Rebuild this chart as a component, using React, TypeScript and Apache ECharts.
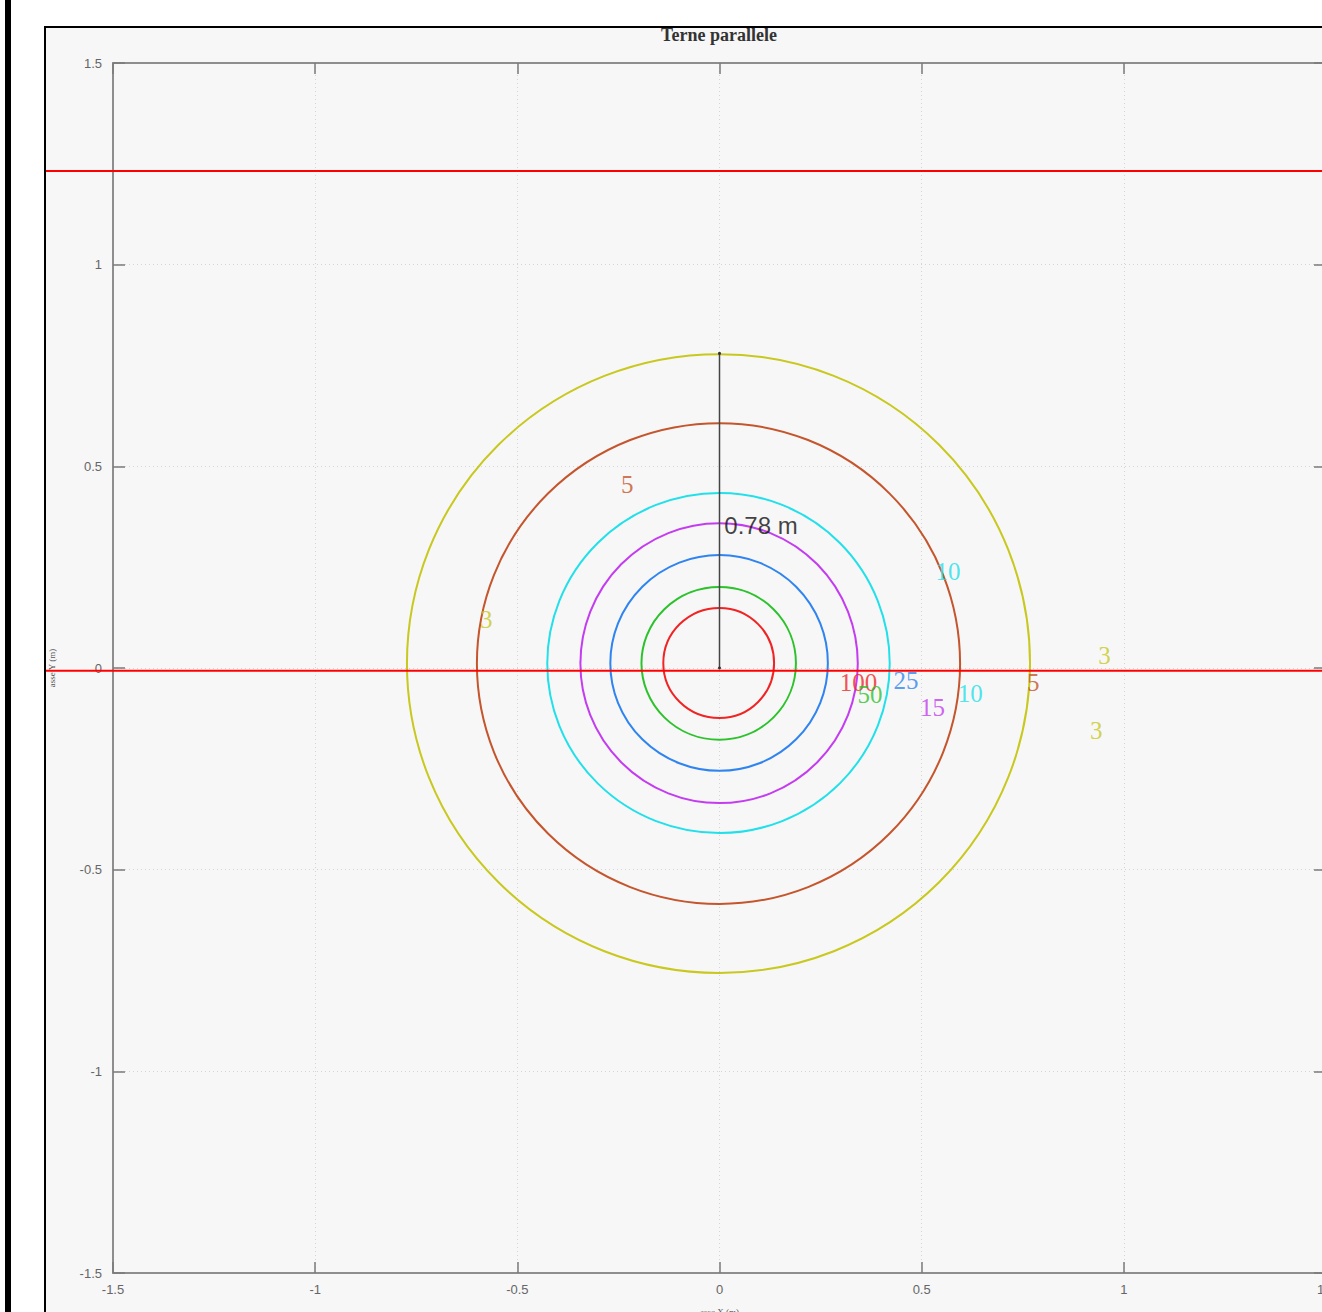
import React, { useEffect, useRef } from "react";
import * as echarts from "echarts";

// Axis ticks
const axisMin = -1.5;
const axisMax = 1.5;
const axisStep = 0.5;

// Contour levels (field values) and their extents
const contourLevels = [3, 5, 10, 15, 25, 50, 100];
const contourColors = ["#c8c81e", "#c4552c", "#22e0ea", "#c43cf0", "#2f84f0", "#2cc22c", "#f02424"];
const contourTop = [0.778, 0.607, 0.434, 0.359, 0.28, 0.201, 0.149];
const contourBottom = [-0.756, -0.585, -0.409, -0.335, -0.255, -0.178, -0.124];
const contourLeft = [-0.773, -0.6, -0.426, -0.344, -0.27, -0.193, -0.139];
const contourRight = [0.768, 0.595, 0.421, 0.342, 0.268, 0.189, 0.135];
const contourMid = [0.011, 0.011, 0.011, 0.011, 0.012, 0.012, 0.012];

// Contour labels
const labelLevel = [5, 3, 10, 3, 5, 100, 50, 25, 15, 10, 3];
const labelX = [-0.228, -0.577, 0.565, 0.952, 0.776, 0.344, 0.372, 0.461, 0.527, 0.62, 0.932];
const labelY = [0.456, 0.121, 0.24, 0.03, -0.035, -0.035, -0.066, -0.032, -0.097, -0.064, -0.156];

// Red horizontal lines (conductor planes)
const redLineY = [1.232, -0.007];

// Distance marker
const distanceValue = 0.78;
const distanceLabel = "0.78 m";
const distanceLabelPos = [0.012, 0.354];

const CHART_W = 1420;
const CHART_H = 1312;

export default function App() {
  const ref = useRef<HTMLDivElement>(null);

  useEffect(() => {
    document.body.style.margin = "0";
    document.body.style.overflow = "hidden";
    if (!ref.current) return;
    const chart = echarts.init(ref.current, undefined, { renderer: "svg" });

    const axisLineStyle = { color: "#8e8e8e", width: 2 };
    const tickStyle = { color: "#7a7a7a", width: 1.5 };
    const splitStyle = { color: "#d4d4d4", width: 1, type: [1, 3] as any };

    const contourData = contourLevels.map((lv, i) => ({
      name: String(lv),
      value: [contourTop[i], contourBottom[i], contourLeft[i], contourRight[i], contourMid[i]],
    }));

    const labelData = labelLevel.map((lv, i) => {
      const ci = contourLevels.indexOf(lv);
      return {
        value: [labelX[i], labelY[i]],
        label: { formatter: String(lv), color: contourColors[ci] },
      };
    });

    const baseGraphic: any[] = [
      { id: "bar", type: "rect", z: -10, shape: { x: 5, y: 0, width: 6, height: CHART_H }, style: { fill: "#000" } },
      {
        id: "frame",
        type: "rect",
        z: -10,
        shape: { x: 45, y: 27, width: 1500, height: 1500 },
        style: { fill: "#f7f7f7", stroke: "#000", lineWidth: 2 },
      },
      {
        id: "title",
        type: "text",
        z: 10,
        x: 719,
        y: 35,
        style: {
          text: "Terne parallele",
          fill: "#333",
          font: "bold 18px 'Liberation Serif'",
          textAlign: "center",
          textVerticalAlign: "middle",
        },
      },
    ];

    chart.setOption({
      animation: false,
      backgroundColor: "#ffffff",
      graphic: baseGraphic,
      grid: { left: 113, top: 63, width: 1213, height: 1210, containLabel: false, outerBoundsMode: "none" },
      xAxis: [
        {
          type: "value",
          min: axisMin,
          max: axisMax,
          interval: axisStep,
          position: "bottom",
          name: "asse X (m)",
          nameLocation: "middle",
          nameGap: 34,
          nameTextStyle: { fontSize: 9, color: "#555", fontFamily: "Liberation Serif" },
          axisLine: { show: true, onZero: false, lineStyle: axisLineStyle },
          axisTick: { show: true, inside: true, length: 11, lineStyle: tickStyle },
          axisLabel: { color: "#666", fontSize: 13, margin: 10, fontFamily: "Liberation Sans" },
          splitLine: { show: true, lineStyle: splitStyle },
        },
        {
          type: "value",
          min: axisMin,
          max: axisMax,
          interval: axisStep,
          position: "top",
          axisLine: { show: true, onZero: false, lineStyle: axisLineStyle },
          axisTick: { show: true, inside: true, length: 11, lineStyle: tickStyle },
          axisLabel: { show: false },
          splitLine: { show: false },
        },
      ],
      yAxis: [
        {
          type: "value",
          min: axisMin,
          max: axisMax,
          interval: axisStep,
          position: "left",
          name: "asse Y (m)",
          nameLocation: "middle",
          nameGap: 57,
          nameTextStyle: { fontSize: 9, color: "#555", fontFamily: "Liberation Serif" },
          axisLine: { show: true, onZero: false, lineStyle: axisLineStyle },
          axisTick: { show: true, inside: true, length: 12, lineStyle: tickStyle },
          axisLabel: { color: "#666", fontSize: 13, margin: 11, fontFamily: "Liberation Sans" },
          splitLine: { show: true, lineStyle: splitStyle },
        },
        {
          type: "value",
          min: axisMin,
          max: axisMax,
          interval: axisStep,
          position: "right",
          axisLine: { show: true, onZero: false, lineStyle: axisLineStyle },
          axisTick: { show: true, inside: true, length: 12, lineStyle: tickStyle },
          axisLabel: { show: false },
          splitLine: { show: false },
        },
      ],
      series: [
        {
          type: "custom",
          data: contourData,
          clip: false,
          z: 3,
          silent: true,
          renderItem: (params: any, api: any) => {
            const t = api.value(0);
            const b = api.value(1);
            const l = api.value(2);
            const r = api.value(3);
            const m = api.value(4);
            const pT = api.coord([0, t]);
            const pB = api.coord([0, b]);
            const pL = api.coord([l, m]);
            const pR = api.coord([r, m]);
            const cx = pT[0];
            const d =
              `M${pL[0]},${pL[1]} ` +
              `A${cx - pL[0]},${pL[1] - pT[1]} 0 0 1 ${pT[0]},${pT[1]} ` +
              `A${pR[0] - cx},${pR[1] - pT[1]} 0 0 1 ${pR[0]},${pR[1]} ` +
              `A${pR[0] - cx},${pB[1] - pR[1]} 0 0 1 ${pB[0]},${pB[1]} ` +
              `A${cx - pL[0]},${pB[1] - pL[1]} 0 0 1 ${pL[0]},${pL[1]} Z`;
            return {
              type: "path",
              shape: { pathData: d },
              style: { fill: "none", stroke: contourColors[params.dataIndex], lineWidth: 2 },
            };
          },
        },
        {
          type: "line",
          data: [
            [0, 0],
            [0, distanceValue],
          ],
          symbol: "circle",
          symbolSize: 3,
          itemStyle: { color: "#333" },
          lineStyle: { color: "#444", width: 1.5 },
          z: 6,
          silent: true,
        },
        {
          type: "scatter",
          symbolSize: 0,
          z: 8,
          silent: true,
          data: [
            {
              value: distanceLabelPos,
              label: {
                show: true,
                formatter: distanceLabel,
                position: "inside",
                align: "left",
                color: "#111",
                fontSize: 24,
                fontFamily: "Liberation Sans",
              },
            },
          ],
        },
        {
          type: "scatter",
          symbolSize: 0,
          z: 8,
          silent: true,
          data: labelData,
          label: {
            show: true,
            position: "inside",
            fontSize: 25,
            fontFamily: "Liberation Serif",
          },
        },
      ],
    });

    // Red conductor-plane lines span the whole frame: place them through the y axis scale
    const redLines = redLineY.map((v, i) => {
      const py = chart.convertToPixel({ yAxisIndex: 0 }, v) as number;
      return {
        id: "red" + i,
        type: "line",
        z: 5,
        silent: true,
        shape: { x1: 46, y1: py, x2: CHART_W, y2: py },
        style: { stroke: "#ff0000", lineWidth: 2 },
      };
    });
    chart.setOption({ graphic: [...baseGraphic, ...redLines] });

    return () => {
      chart.dispose();
    };
  }, []);

  return (
    <div style={{ width: 1322, height: CHART_H, overflow: "hidden", position: "relative" }}>
      <div ref={ref} style={{ width: CHART_W, height: CHART_H, position: "absolute", left: 0, top: 0 }} />
    </div>
  );
}
